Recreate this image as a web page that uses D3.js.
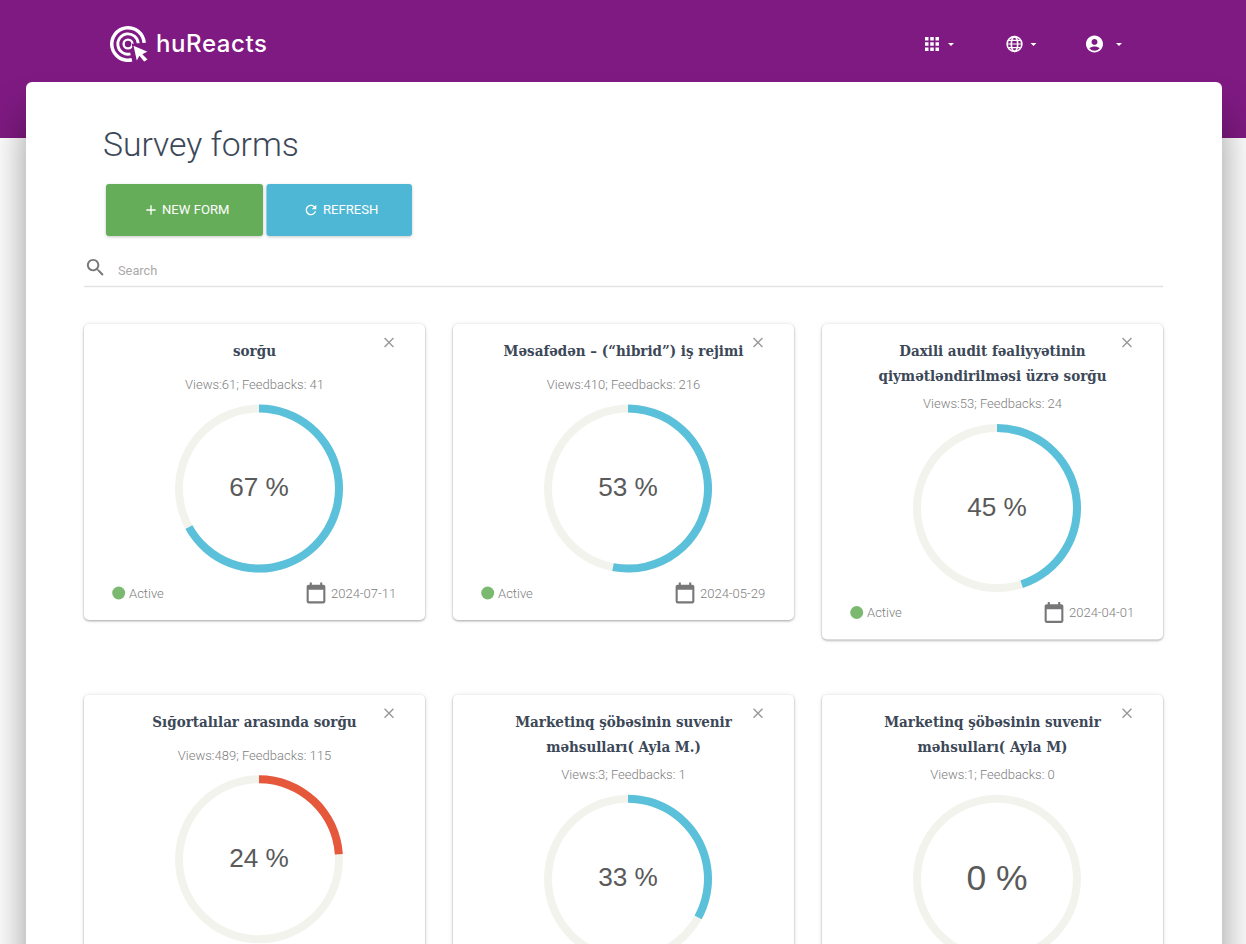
<!DOCTYPE html>
<html>
<head>
<meta charset="utf-8">
<title>Survey forms</title>
<script src="https://cdn.jsdelivr.net/npm/d3@7"></script>
<style>
  html, body { margin: 0; padding: 0; background: #fff; overflow: hidden; }
  svg { display: block; }
  text { font-family: Roboto, sans-serif; }
</style>
</head>
<body>
<div id="chart"></div>
<script>
// Survey data
var titles = [
  ['sorğu'],
  ['Məsafədən – (“hibrid”) iş rejimi'],
  ['Daxili audit fəaliyyətinin', 'qiymətləndirilməsi üzrə sorğu'],
  ['Sığortalılar arasında sorğu'],
  ['Marketinq şöbəsinin suvenir', 'məhsulları( Ayla M.)'],
  ['Marketinq şöbəsinin suvenir', 'məhsulları( Ayla M)']
];
var views = [61, 410, 53, 489, 3, 1];
var feedbacks = [41, 216, 24, 115, 1, 0];
var percents = [67, 53, 45, 24, 33, 0];
var statuses = ['Active', 'Active', 'Active', 'Active', 'Active', 'Active'];
var dates = ['2024-07-11', '2024-05-29', '2024-04-01', '', '', ''];

var width = 1246;
var height = 944;
var cardWidth = 341;
var outerRadius = 84;
var ringWidth = 8;
var lowLimit = 30;

var colors = {
  header: '#7f1a82',
  good: '#5bc0da',
  bad: '#e5583b',
  track: '#f3f3ee',
  green: '#66ad5a',
  blue: '#4eb7d5',
  dot: '#7ab96f',
  title: '#3c4858',
  muted: '#808080',
  icon: '#777'
};

var svg = d3.select('#chart').append('svg')
  .attr('width', width)
  .attr('height', height);

// Page background and main panel
svg.append('rect').attr('width', width).attr('height', height).attr('fill', '#fff');
svg.append('rect').attr('width', width).attr('height', 138).attr('fill', colors.header);
svg.append('rect')
  .attr('x', 26).attr('y', 82)
  .attr('width', 1196).attr('height', 950)
  .attr('rx', 6)
  .attr('fill', '#fff')
  .style('filter', 'drop-shadow(0 34px 20px rgba(0,0,0,.42))');

// Material style icon in a 24 unit box
function icon(parent, d, x, y, size, fill) {
  return parent.append('path')
    .attr('d', d)
    .attr('fill', fill)
    .attr('transform', 'translate(' + x + ',' + y + ') scale(' + size / 24 + ')');
}

var paths = {
  apps: 'M4 4h4v4H4zM10 4h4v4h-4zM16 4h4v4h-4zM4 10h4v4H4zM10 10h4v4h-4zM16 10h4v4h-4zM4 16h4v4H4zM10 16h4v4h-4zM16 16h4v4h-4z',
  account: 'M12 2C6.48 2 2 6.48 2 12s4.48 10 10 10 10-4.48 10-10S17.52 2 12 2zm0 4c1.93 0 3.5 1.57 3.5 3.5S13.93 13 12 13s-3.5-1.57-3.5-3.5S10.07 6 12 6zm0 14c-2.03 0-4.43-.82-6.14-2.88C7.55 15.8 9.68 15 12 15s4.45.8 6.14 2.12C16.43 19.18 14.03 20 12 20z',
  plus: 'M19 13h-6v6h-2v-6H5v-2h6V5h2v6h6v2z',
  refresh: 'M17.65 6.35C16.2 4.9 14.21 4 12 4c-4.42 0-7.99 3.58-7.99 8s3.57 8 7.99 8c3.73 0 6.84-2.55 7.73-6h-2.08c-.82 2.33-3.04 4-5.65 4-3.31 0-6-2.69-6-6s2.69-6 6-6c1.66 0 3.14.69 4.22 1.78L13 11h7V4l-2.35 2.35z',
  search: 'M15.5 14h-.79l-.28-.27C15.41 12.59 16 11.11 16 9.5 16 5.91 13.09 3 9.5 3S3 5.91 3 9.5 5.91 16 9.5 16c1.61 0 3.09-.59 4.23-1.57l.27.28v.79l5 4.99L20.49 19l-4.99-5zm-6 0C7.01 14 5 11.99 5 9.5S7.01 5 9.5 5 14 7.01 14 9.5 11.99 14 9.5 14z',
  close: 'M19 6.41L17.59 5 12 10.59 6.41 5 5 6.41 10.59 12 5 17.59 6.41 19 12 13.41 17.59 19 19 17.59 13.41 12z',
  calendar: 'M19 3h-1V1h-2v2H8V1H6v2H5c-1.11 0-2 .9-2 2v14c0 1.1.89 2 2 2h14c1.1 0 2-.9 2-2V5c0-1.1-.9-2-2-2zm0 16H5V8h14v11z'
};

// Header: logo
var logo = svg.append('g').attr('transform', 'translate(128,44)');
var logoArc = d3.arc();
[[14.5, 18, 2.9, 7.78], [8.8, 11.6, 2.9, 7.78], [3.2, 5.6, 0, 6.29]].forEach(function (r) {
  logo.append('path')
    .attr('d', logoArc({ innerRadius: r[0], outerRadius: r[1], startAngle: r[2], endAngle: r[3] }))
    .attr('fill', '#fff');
});
logo.append('path')
  .attr('d', 'M4.5 0.5L21 7.5L15.5 10.5L20.5 15.5L16 18.5L11.5 13L8.5 18.5Z')
  .attr('fill', '#fff')
  .attr('stroke', colors.header)
  .attr('stroke-width', 1.4);
svg.append('text')
  .attr('x', 156).attr('y', 52)
  .attr('fill', '#fff')
  .attr('textLength', 111)
  .attr('lengthAdjust', 'spacing')
  .style('font-family', 'Inter, sans-serif')
  .style('font-size', '24px')
  .style('font-weight', 500)
  .text('huReacts');

// Header: menu icons
icon(svg, paths.apps, 921.5, 33.5, 21, '#fff');
var globe = svg.append('g').attr('transform', 'translate(1014.5,44)').attr('fill', 'none').attr('stroke', '#fff').attr('stroke-width', 1.6);
globe.append('circle').attr('r', 7.4);
globe.append('ellipse').attr('rx', 3.2).attr('ry', 7.4);
globe.append('path').attr('d', 'M-7 0H7M-6 -3.6H6M-6 3.6H6').attr('stroke-width', 1.2);
icon(svg, paths.account, 1084.3, 33.8, 20.4, '#fff');
[951, 1033.5, 1119].forEach(function (x) {
  svg.append('path')
    .attr('d', 'M' + (x - 3) + ' 43L' + (x + 3) + ' 43L' + x + ' 46Z')
    .attr('fill', '#fff');
});

// Heading
svg.append('text')
  .attr('x', 103).attr('y', 156)
  .attr('fill', colors.title)
  .style('font-size', '33.7px')
  .style('font-weight', 300)
  .text('Survey forms');

// Buttons
function button(x, w, fill, iconPath, iconX, label, labelX) {
  svg.append('rect')
    .attr('x', x).attr('y', 184)
    .attr('width', w).attr('height', 52)
    .attr('rx', 3)
    .attr('fill', fill)
    .style('filter', 'drop-shadow(0 1px 1.5px rgba(0,0,0,.22))');
  icon(svg, iconPath, iconX, 202, 16, '#fff');
  svg.append('text')
    .attr('x', labelX).attr('y', 214)
    .attr('fill', '#fff')
    .style('font-size', '13.1px')
    .text(label);
}
button(106, 157, colors.green, paths.plus, 143, 'NEW FORM', 162);
button(266.5, 145.5, colors.blue, paths.refresh, 303, 'REFRESH', 323);

// Search field
icon(svg, paths.search, 84, 256, 23, '#777');
svg.append('text')
  .attr('x', 118).attr('y', 274.5)
  .attr('fill', '#aaa')
  .style('font-size', '12.8px')
  .text('Search');
svg.append('line')
  .attr('x1', 84).attr('x2', 1163)
  .attr('y1', 286.5).attr('y2', 286.5)
  .attr('stroke', '#e2e2e2')
  .attr('stroke-width', 1.5);

// Cards
var columnScale = d3.scaleLinear().domain([0, 1, 2]).range([84, 453, 822]);
var rowScale = d3.scaleLinear().domain([0, 1]).range([324, 694.7]);
var angleScale = d3.scaleLinear().domain([0, 100]).range([0, 2 * Math.PI]);
var ringArc = d3.arc()
  .innerRadius(outerRadius - ringWidth)
  .outerRadius(outerRadius);

var cards = svg.selectAll('g.card')
  .data(percents)
  .enter().append('g')
  .attr('class', 'card')
  .attr('transform', function (d, i) {
    return 'translate(' + columnScale(i % 3) + ',' + rowScale(Math.floor(i / 3)) + ')';
  })
  .each(function (percent, i) {
    var card = d3.select(this);
    var extra = titles[i].length === 2 ? 19.5 : 0;

    card.append('rect')
      .attr('width', cardWidth)
      .attr('height', 296 + extra)
      .attr('rx', 5)
      .attr('fill', '#fff')
      .style('filter', 'drop-shadow(0 1px 1px rgba(0,0,0,.32)) drop-shadow(0 0 2.5px rgba(0,0,0,.08))');

    // Close icon
    icon(card, paths.close, 296.5, 10, 17, '#999');

    // Title lines
    titles[i].forEach(function (line, j) {
      card.append('text')
        .attr('x', cardWidth / 2)
        .attr('y', 32 + j * 25)
        .attr('text-anchor', 'middle')
        .attr('fill', colors.title)
        .style('font-family', '"DejaVu Serif Condensed", "DejaVu Serif", serif')
        .style('font-stretch', 'condensed')
        .style('font-size', '15px')
        .style('font-weight', 700)
        .text(line);
    });

    card.append('text')
      .attr('x', cardWidth / 2)
      .attr('y', 65 + (extra ? 19 : 0))
      .attr('text-anchor', 'middle')
      .attr('fill', colors.muted)
      .style('font-size', '13px')
      .style('font-weight', 300)
      .text('Views:' + views[i] + '; Feedbacks: ' + feedbacks[i]);

    // Gauge
    var gauge = card.append('g')
      .attr('transform', 'translate(' + (cardWidth / 2 + 4.5) + ',' + (164.6 + extra) + ')');
    gauge.append('path')
      .attr('d', ringArc({ startAngle: 0, endAngle: 2 * Math.PI }))
      .attr('fill', colors.track);
    gauge.append('path')
      .attr('d', ringArc({ startAngle: 0, endAngle: angleScale(percent) }))
      .attr('fill', percent < lowLimit ? colors.bad : colors.good);
    gauge.append('text')
      .attr('y', percent === 0 ? 11 : 7.5)
      .attr('text-anchor', 'middle')
      .attr('fill', '#5a5a5a')
      .style('font-family', '"Liberation Sans", Arial, sans-serif')
      .style('font-size', percent === 0 ? '35.5px' : '26.2px')
      .text(percent + ' %');

    // Footer
    if (i < 3) {
      var footY = 269 + extra;
      card.append('circle')
        .attr('cx', 34.7).attr('cy', footY)
        .attr('r', 6.5)
        .attr('fill', colors.dot);
      card.append('text')
        .attr('x', 45).attr('y', footY + 4.5)
        .attr('fill', colors.muted)
        .style('font-size', '13px')
        .style('font-weight', 300)
        .text(statuses[i]);
      icon(card, paths.calendar, 219.5, footY - 11.5, 25, colors.icon);
      card.append('text')
        .attr('x', 247).attr('y', footY + 4.5)
        .attr('fill', colors.muted)
        .style('font-size', '13px')
        .style('font-weight', 300)
        .text(dates[i]);
    }
  });
</script>
</body>
</html>
